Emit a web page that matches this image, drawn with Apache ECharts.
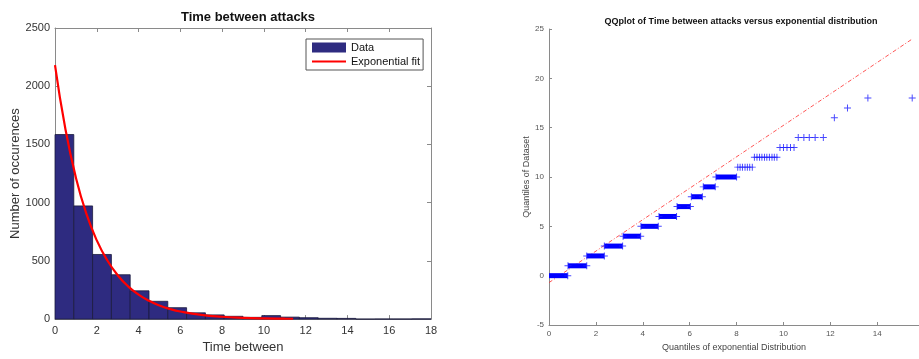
<!DOCTYPE html>
<html>
<head>
<meta charset="utf-8">
<script src="https://cdn.jsdelivr.net/npm/echarts@6/dist/echarts.min.js"></script>
<style>
html,body{margin:0;padding:0;background:#fff;}
#chart{width:919px;height:359px;}
</style>
</head>
<body>
<div id="chart"></div>
<script>
// ---- Histogram (left) ----
var histBinEdges = [0, 0.9, 1.8, 2.7, 3.6, 4.5, 5.4, 6.3, 7.2, 8.1, 9.0, 9.9, 10.8, 11.7, 12.6, 13.5, 14.4, 15.3, 16.2, 17.1, 18.0];
var histCounts = [1585, 972, 555, 381, 243, 153, 98, 54, 36, 24, 15, 30, 17, 12, 7, 6, 0, 1, 1, 2];
var fitX = [0, 0.5, 1, 1.5, 2, 2.5, 3, 3.5, 4, 4.5, 5, 5.5, 6, 7, 8, 9, 10, 11, 11.4];
var fitY = [2182, 1630, 1215, 905, 676, 505, 377, 281, 210, 157, 117, 87, 65, 36, 20, 11, 6, 3.5, 2.8];

// ---- QQ plot (right) ----
var qqBandLevel = [0, 1, 2, 3, 4, 5, 6, 7, 8, 9, 10];
var qqBandStart = [0.00, 0.81, 1.61, 2.36, 3.16, 3.92, 4.69, 5.46, 6.07, 6.58, 7.12];
var qqBandEnd   = [0.80, 1.61, 2.36, 3.14, 3.91, 4.66, 5.44, 6.03, 6.54, 7.09, 8.00];
var qqSparseLevel = [11, 12, 13, 14, 16, 17, 18];
var qqSparseX = [
  [8.05, 8.15, 8.25, 8.36, 8.46, 8.56, 8.67],
  [8.76, 8.87, 8.98, 9.08, 9.19, 9.29, 9.40, 9.51, 9.61, 9.72],
  [9.85, 10.00, 10.15, 10.30, 10.45],
  [10.63, 10.87, 11.10, 11.35, 11.70],
  [12.17],
  [12.73],
  [13.60, 15.49]
];
var qqRefX = [0, 15.5];
var qqRefY = [-0.7, 24.0];

// ---- build library data ----
var histData = histCounts.map(function (c, i) { return [histBinEdges[i], histBinEdges[i + 1], c]; });
var fitData = fitX.map(function (x, i) { return [x, fitY[i]]; });
var bandData = qqBandLevel.map(function (l, i) { return [qqBandStart[i], qqBandEnd[i], l]; });
var markerData = [];
qqBandLevel.forEach(function (l, i) {
  if (qqBandStart[i] > 0) markerData.push([qqBandStart[i], l]);
  markerData.push([qqBandEnd[i], l]);
});
qqSparseLevel.forEach(function (l, i) {
  qqSparseX[i].forEach(function (x) { markerData.push([x, l]); });
});
var refData = qqRefX.map(function (x, i) { return [x, qqRefY[i]]; });

var FONT = 'Liberation Sans, Arial, sans-serif';
var plusPath = 'path://M4.3,0H5.7V4.3H10V5.7H5.7V10H4.3V5.7H0V4.3H4.3Z';
var lineIcon = 'path://M0,0H0.01V0.01H0Z M0,3.9H34V6.1H0Z M33.99,9.99H34V10H33.99Z';
var axisGrey = '#8a8a8a';
var txt = '#333';
var plain = function (v) { return String(v); };

var chart = echarts.init(document.getElementById('chart'), null, {renderer: 'canvas'});
chart.setOption({
  animation: false,
  backgroundColor: '#fff',
  textStyle: {fontFamily: FONT},
  title: [
    {text: 'Time between attacks', left: 243, top: 6, textAlign: 'center',
     textStyle: {fontFamily: FONT, fontSize: 13, fontWeight: 'bold', color: '#111'}},
    {text: 'QQplot of Time between attacks versus exponential distribution', left: 736, top: 12, textAlign: 'center',
     textStyle: {fontFamily: FONT, fontSize: 9, fontWeight: 'bold', color: '#111'}}
  ],
  legend: {
    orient: 'vertical', left: 306, top: 39,
    padding: [3, 3, 3, 6], itemGap: 3, itemWidth: 34, itemHeight: 10,
    borderColor: '#555', borderWidth: 1, backgroundColor: '#fff',
    textStyle: {fontFamily: FONT, fontSize: 11, color: '#111'},
    data: [{name: 'Data', icon: 'rect'}, {name: 'Exponential fit', icon: lineIcon, itemStyle: {color: '#ff0000'}}]
  },
  grid: [
    {left: 55, right: 488, top: 28, bottom: 33, containLabel: false},
    {left: 549, right: 0, top: 29, bottom: 34, containLabel: false}
  ],
  xAxis: [
    {gridIndex: 0, type: 'value', min: 0, max: 18, interval: 2, position: 'bottom',
     axisLine: {onZero: false, lineStyle: {color: axisGrey}}, axisTick: {inside: true, length: 4, lineStyle: {color: axisGrey}},
     axisLabel: {color: txt, fontSize: 11, margin: 6, fontFamily: FONT, formatter: plain}, splitLine: {show: false},
     name: 'Time between', nameLocation: 'middle', nameGap: 21,
     nameTextStyle: {fontFamily: FONT, fontSize: 13, color: txt}},
    {gridIndex: 0, type: 'value', min: 0, max: 18, interval: 2, position: 'top',
     axisLine: {onZero: false, lineStyle: {color: axisGrey}}, axisTick: {inside: true, length: 4, lineStyle: {color: axisGrey}},
     axisLabel: {show: false}, splitLine: {show: false}},
    {gridIndex: 1, type: 'value', min: 0, max: 15.78, interval: 2, position: 'bottom',
     axisLine: {onZero: false, lineStyle: {color: axisGrey}}, axisTick: {inside: true, length: 3, lineStyle: {color: axisGrey}},
     axisLabel: {color: '#555', fontSize: 8, margin: 5, fontFamily: FONT, showMaxLabel: false, formatter: plain}, splitLine: {show: false},
     name: 'Quantiles of exponential Distribution', nameLocation: 'middle', nameGap: 16,
     nameTextStyle: {fontFamily: FONT, fontSize: 9, color: '#444'}}
  ],
  yAxis: [
    {gridIndex: 0, type: 'value', min: 0, max: 2500, interval: 500, position: 'left',
     axisLine: {show: true, onZero: false, lineStyle: {color: axisGrey}}, axisTick: {show: true, inside: true, length: 4, lineStyle: {color: axisGrey}},
     axisLabel: {color: txt, fontSize: 11, margin: 5, fontFamily: FONT, formatter: plain}, splitLine: {show: false},
     name: 'Number of occurences', nameLocation: 'middle', nameGap: 32,
     nameTextStyle: {fontFamily: FONT, fontSize: 13, color: txt}},
    {gridIndex: 0, type: 'value', min: 0, max: 2500, interval: 500, position: 'right',
     axisLine: {show: true, onZero: false, lineStyle: {color: axisGrey}}, axisTick: {show: true, inside: true, length: 4, lineStyle: {color: axisGrey}},
     axisLabel: {show: false}, splitLine: {show: false}},
    {gridIndex: 1, type: 'value', min: -5, max: 25, interval: 5, position: 'left',
     axisLine: {show: true, onZero: false, lineStyle: {color: axisGrey}}, axisTick: {show: true, inside: true, length: 3, lineStyle: {color: axisGrey}},
     axisLabel: {color: '#555', fontSize: 8, margin: 5, fontFamily: FONT, formatter: plain}, splitLine: {show: false},
     name: 'Quantiles of Dataset', nameLocation: 'middle', nameGap: 16,
     nameTextStyle: {fontFamily: FONT, fontSize: 9, color: '#444'}}
  ],
  series: [
    {name: 'Data', type: 'custom', xAxisIndex: 0, yAxisIndex: 0, data: histData,
     itemStyle: {color: '#2e2b80'},
     encode: {x: [0, 1], y: 2},
     renderItem: function (params, api) {
       var a = api.coord([api.value(0), 0]);
       var b = api.coord([api.value(1), api.value(2)]);
       return {type: 'rect', shape: {x: a[0], y: b[1], width: b[0] - a[0], height: a[1] - b[1]},
               style: {fill: '#2e2b80', stroke: '#1a1a3c', lineWidth: 0.8}};
     }, z: 2},
    {name: 'Exponential fit', type: 'line', xAxisIndex: 0, yAxisIndex: 0, data: fitData,
     smooth: true, symbol: 'none', lineStyle: {color: '#ff0000', width: 2.2}, itemStyle: {color: '#ff0000'}, z: 5},
    {name: 'bands', type: 'custom', xAxisIndex: 2, yAxisIndex: 2, data: bandData,
     encode: {x: [0, 1], y: 2},
     renderItem: function (params, api) {
       var a = api.coord([api.value(0), api.value(2)]);
       var b = api.coord([api.value(1), api.value(2)]);
       return {type: 'rect', shape: {x: a[0], y: a[1] - 2.5, width: b[0] - a[0], height: 5},
               style: {fill: '#0000ff'}};
     }, z: 3},
    {name: 'markers', type: 'scatter', xAxisIndex: 2, yAxisIndex: 2, data: markerData,
     symbol: plusPath, symbolSize: 7, itemStyle: {color: '#1a1aff'}, z: 4},
    {name: 'ref', type: 'line', xAxisIndex: 2, yAxisIndex: 2, data: refData, symbol: 'none',
     lineStyle: {color: '#ff2a2a', width: 0.8, type: [4, 2, 1, 2]}, z: 2}
  ]
});
</script>
</body>
</html>
